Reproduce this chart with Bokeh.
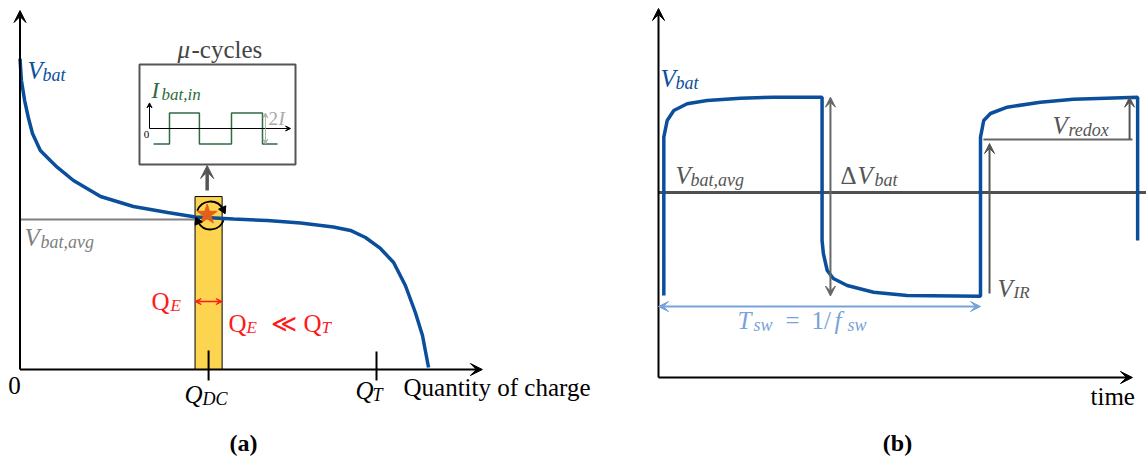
import math
from bokeh.plotting import figure
from bokeh.models import Range1d, Label, Arrow, VeeHead
from bokeh.embed import file_html
from bokeh.resources import INLINE

# ---------------- data ----------------
# (a) battery discharge curve: normalised charge vs. voltage (V_avg = 1)
discharge_q = [0.0, 0.004, 0.013, 0.024, 0.035, 0.057, 0.085, 0.105, 0.150, 0.226,
               0.318, 0.414, 0.492, 0.599, 0.694, 0.787, 0.879, 0.927, 0.969, 1.011,
               1.048, 1.081, 1.109, 1.129, 1.146]
discharge_v = [2.073, 1.927, 1.793, 1.673, 1.573, 1.460, 1.393, 1.347, 1.260, 1.153,
               1.087, 1.047, 1.017, 1.003, 0.993, 0.977, 0.950, 0.927, 0.880, 0.807,
               0.713, 0.560, 0.380, 0.227, 0.013]
Q_DC = 0.529
Q_E = 0.076
Q_T = 1.0
V_avg = 1.0
op_point = (0.525, 1.033)
window_top = 1.153

# inset: micro-cycle current (half-period units, +-I)
inset_t = [0.13, 0.645, 1.61, 2.645, 3.645, 4.13]
inset_i = [-1, 1, -1, 1, -1, -1]

# (b) battery voltage over time (t in T_sw, v relative to V_bat,avg)
wave_t = [0.0165, 0.0165, 0.027, 0.0475, 0.089, 0.151, 0.255, 0.357, 0.508,
          0.508, 0.512, 0.524, 0.543, 0.586, 0.668, 0.772, 1.0,
          1.0, 1.010, 1.031, 1.083, 1.186, 1.289, 1.488, 1.488]
wave_v = [-1.03, 0.553, 0.72, 0.82, 0.887, 0.92, 0.943, 0.953, 0.953,
          -0.48, -0.61, -0.78, -0.86, -0.93, -0.997, -1.03, -1.037,
          0.553, 0.72, 0.79, 0.853, 0.903, 0.933, 0.953, -0.48]
v_high = 0.953
v_low = -1.035
v_redox_base = 0.53
T_sw = 1.0

# ---------------- styles ----------------
SERIF = "Liberation Serif"
BLUE = "#0B4F9C"
GRAY_L = "#808080"
GRAY_D = "#555555"
RED = "#FF1A1A"
GREEN = "#2E6B40"
LBLUE = "#78A2DA"

W, H = 1146, 459
p = figure(width=W, height=H, x_range=Range1d(0, W), y_range=Range1d(H, 0),
           toolbar_location=None, output_backend="svg", min_border=0,
           x_axis_type=None, y_axis_type=None, outline_line_color=None,
           background_fill_color="white", border_fill_color="white")

# coordinate systems (pixel anchors of each panel)
p.extra_x_ranges = {
    "Lx": Range1d((0 - 19.5) / 356.5, (W - 19.5) / 356.5),
    "Rx": Range1d((0 - 658) / 322, (W - 658) / 322),
    "Ix": Range1d((0 - 149) / 31, (W - 149) / 31),
}
p.extra_y_ranges = {
    "Ly": Range1d((369 - H) / 150, (369 - 0) / 150),
    "Ry": Range1d((192 - H) / 100, (192 - 0) / 100),
    "Iy": Range1d((128 - H) / 15.5, (128 - 0) / 15.5),
}
L = dict(x_range_name="Lx", y_range_name="Ly")
R = dict(x_range_name="Rx", y_range_name="Ry")
I = dict(x_range_name="Ix", y_range_name="Iy")


def arrow(x0, y0, x1, y1, rng, color, lw, size=11, both=False):
    head = lambda: VeeHead(size=size, fill_color=color, line_color=color, line_width=1)
    a = Arrow(x_start=x0, y_start=y0, x_end=x1, y_end=y1, line_color=color,
              line_width=lw, end=head(), start=head() if both else None, **rng)
    p.add_layout(a)


DY = -7  # baseline correction


def lab(x, y, text, size=25, color="black", style="normal", align="left"):
    p.add_layout(Label(x=x, y=y + DY, text=text, text_font=SERIF,
                       text_font_size=f"{size}px", text_font_style=style,
                       text_color=color, text_align=align,
                       text_baseline="alphabetic"))


# ======================= panel (a) =======================
# yellow window
p.quad(left=[Q_DC - Q_E / 2], right=[Q_DC + Q_E / 2], bottom=[0], top=[window_top],
       fill_color="#FDD44F", line_color="black", line_width=1, **L)
# average line
p.line([0, Q_DC - Q_E / 2], [V_avg, V_avg], line_color=GRAY_L, line_width=2, **L)
# discharge curve
p.line(discharge_q, discharge_v, line_color=BLUE, line_width=3.5, **L)
# axes
arrow(0, 0, 0, 2.393, L, "black", 2, size=12)
arrow(0, 0, 1.297, 0, L, "black", 2, size=12)
# ticks
p.segment([Q_DC, Q_T], [0.127, 0.120], [Q_DC, Q_T], [-0.073, -0.073],
          line_color="black", line_width=2, **L)
# star and circulating arrows
p.scatter([op_point[0]], [op_point[1]], marker="star", size=21,
          fill_color="#E2601A", line_color="#E2601A", **L)
cx, cy = 0.5343, 1.0267
p.arc([cx], [cy], radius=14, radius_units="screen", start_angle=math.radians(30),
      end_angle=math.radians(160), line_color="black", line_width=1.8, **L)
p.arc([cx], [cy], radius=14, radius_units="screen", start_angle=math.radians(210),
      end_angle=math.radians(340), line_color="black", line_width=1.8, **L)
for th, ang in ((25, -155), (205, 25)):
    p.scatter([cx + 14 * math.cos(math.radians(th)) / 356.5],
              [cy + 14 * math.sin(math.radians(th)) / 150],
              marker="triangle", size=8, angle=math.radians(ang),
              fill_color="black", line_color="black", **L)
# Q_E double arrow
arrow(Q_DC - Q_E / 2, 0.453, Q_DC + Q_E / 2, 0.453, L, RED, 1.5, size=6, both=True)
# arrow up to the inset
arrow(op_point[0], 1.193, op_point[0], 1.36, L, GRAY_D, 3.5, size=13)

# inset box
p.quad(left=[139], right=[295], top=[64], bottom=[164], fill_color="white",
       line_color=GRAY_D, line_width=2)
arrow(0, 0, 0, 1.65, I, "black", 1, size=5)
arrow(0, 0, 4.55, 0, I, "black", 1, size=5)
p.step(inset_t, inset_i, mode="after", line_color=GREEN, line_width=1.5, **I)
arrow(3.74, 0, 3.74, 1, I, "#B0B0B0", 1, size=5)
arrow(3.74, 0, 3.74, -1, I, "#B0B0B0", 1, size=5)

# texts panel (a)
lab(27, 77, "V", 25, BLUE, "italic")
lab(42, 81, "bat", 18, BLUE, "italic")
lab(24, 244, "V", 25, GRAY_L, "italic")
lab(40, 248, "bat,avg", 18, GRAY_L, "italic")
lab(177, 56, "\u03bc", 25, "#444444", "italic")
lab(191, 56, "-cycles", 25, "#444444")
lab(151, 97, "I", 23, GREEN, "italic")
lab(161, 101, "bat,in", 17, GREEN, "italic")
lab(146, 141, "0", 11, "black", "normal", "center")
lab(268, 125, "2", 19, "#A8A8A8")
lab(278, 125, "I", 19, "#A8A8A8", "italic")
lab(151, 308, "Q", 25, RED)
lab(170, 312, "E", 17, RED, "italic")
lab(228, 330, "Q", 25, RED)
lab(246, 334, "E", 17, RED, "italic")
lab(270, 330, "\u226a", 25, RED)
lab(303, 330, "Q", 25, RED)
lab(321, 334, "T", 17, RED, "italic")
lab(14, 392, "0", 25, "black", "normal", "center")
lab(184, 401, "Q", 25, "black", "italic")
lab(202, 405, "DC", 18, "black", "italic")
lab(355, 397, "Q", 25, "black", "italic")
lab(372, 401, "T", 18, "black", "italic")
lab(403, 394, "Quantity of charge", 25)
lab(243, 449, "(a)", 24, "black", "bold", "center")

# ======================= panel (b) =======================
p.line([0, 1.52], [0, 0], line_color="#505050", line_width=3, **R)
p.line(wave_t, wave_v, line_color=BLUE, line_width=3.5, **R)
arrow(0, -1.85, 0, 1.84, R, "black", 2, size=12)
arrow(0, -1.85, 1.472, -1.85, R, "black", 2, size=12)
# Delta V arrow
arrow(0.534, 0, 0.534, v_high, R, "#666666", 2, size=10)
arrow(0.534, 0, 0.534, v_low, R, "#666666", 2, size=10)
# V_IR arrow
arrow(1.028, -1.01, 1.028, v_redox_base - 0.04, R, "#555555", 2, size=10)
# V_redox
p.line([1.009, 1.472], [v_redox_base, v_redox_base], line_color="#666666", line_width=2, **R)
arrow(1.463, v_redox_base, 1.463, v_high, R, "#555555", 2, size=10)
# T_sw arrow
arrow(0, -1.14, T_sw, -1.14, R, LBLUE, 2, size=10, both=True)

# texts panel (b)
lab(660, 85, "V", 25, BLUE, "italic")
lab(675, 89, "bat", 18, BLUE, "italic")
lab(675, 182, "V", 25, GRAY_D, "italic")
lab(690, 186, "bat,avg", 18, GRAY_D, "italic")
lab(840, 182, "\u0394", 25, GRAY_D)
lab(857, 182, "V", 25, GRAY_D, "italic")
lab(874, 186, "bat", 18, GRAY_D, "italic")
lab(1052, 132, "V", 25, GRAY_D, "italic")
lab(1068, 136, "redox", 18, GRAY_D, "italic")
lab(997, 295, "V", 25, GRAY_D, "italic")
lab(1013, 299, "IR", 17, GRAY_D, "italic")
lab(737, 327, "T", 25, LBLUE, "italic")
lab(753, 331, "sw", 18, LBLUE, "italic")
lab(785, 327, "=", 25, LBLUE)
lab(811, 327, "1/", 25, LBLUE)
lab(834, 327, "f", 25, LBLUE, "italic")
lab(847, 331, "sw", 18, LBLUE, "italic")
lab(1090, 403, "time", 25)
lab(897, 449, "(b)", 24, "black", "bold", "center")

open("out.html", "w").write(file_html(p, INLINE))
